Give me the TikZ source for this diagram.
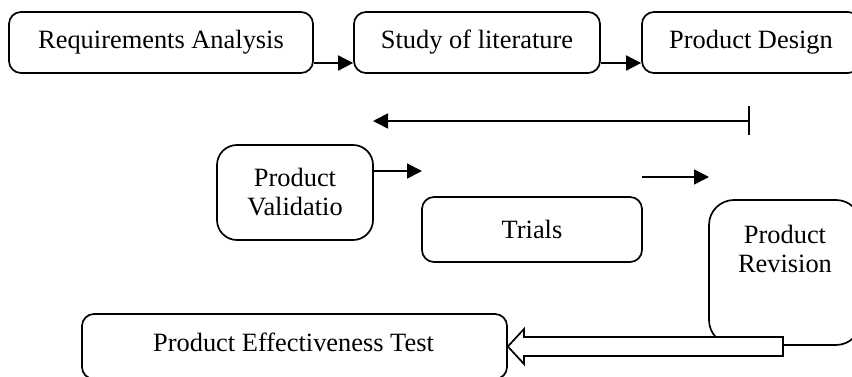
\documentclass[tikz,border=0pt]{standalone}
\usepackage{fontspec}
\setmainfont{Liberation Serif}
\usetikzlibrary{arrows.meta}
\begin{document}
\begin{tikzpicture}[x=1pt,y=-1pt,
  every node/.style={font=\fontsize{26.4}{29}\selectfont},
  box/.style={draw,line width=1.7pt,rounded corners=#1,inner sep=0pt,align=center,fill=white},
  box/.default=12pt,
  arr/.style={line width=1.7pt,-{Triangle[length=15pt,width=15pt]}}]
\clip (0,0) rectangle (852,377);
% top row
\node[box,minimum width=304,minimum height=61] (ra) at (161,42.5) {Requirements Analysis};
\node[box,minimum width=246,minimum height=61] (sl) at (477,42.5) {Study of literature};
\node[box,minimum width=218,minimum height=61] (pd) at (751,42.5) {Product Design};
\draw[arr] ([yshift=-20.5pt]ra.east) -- ([yshift=-20.5pt]sl.west);
\draw[arr] ([yshift=-20.5pt]sl.east) -- ([yshift=-20.5pt]pd.west);
% long back line
\coordinate (b1) at (750,121);
\coordinate (b2) at (373,121);
\draw[line width=1.7pt,{Bar[width=29pt]}-{Triangle[length=15pt,width=15pt]}] (b1) -- (b2);
% middle
\node[box=20pt,minimum width=156,minimum height=95] (pv) at (295,192.5) {Product\\Validatio};
\node[box,minimum width=220,minimum height=65] (tr) at (532,229.5) {Trials};
\coordinate (pvend) at (422,171);
\draw[arr] ([yshift=21.5pt]pv.east) -- (pvend);
\coordinate (t1) at (642,177);
\coordinate (t2) at (709,177);
\draw[arr] (t1) -- (t2);
% product revision
\node[box=25pt,minimum width=152,minimum height=145] (pr) at (785,272.5) {};
\node[align=center,inner sep=0pt,anchor=north] (prt) at ([yshift=-26pt]pr.north) {Product\\Revision};
% effectiveness test
\node[box=12pt,minimum width=425,minimum height=65] (pet) at (294.5,346.5) {};
\node[inner sep=0pt] (pett) at (293.5,342) {Product Effectiveness Test};
% block arrow
\draw[line width=1.7pt,fill=white] (783,337) -- (524,337) -- (524,329) -- (pet.east) -- (524,364) -- (524,356) -- (783,356) -- cycle;
\end{tikzpicture}
\end{document}
